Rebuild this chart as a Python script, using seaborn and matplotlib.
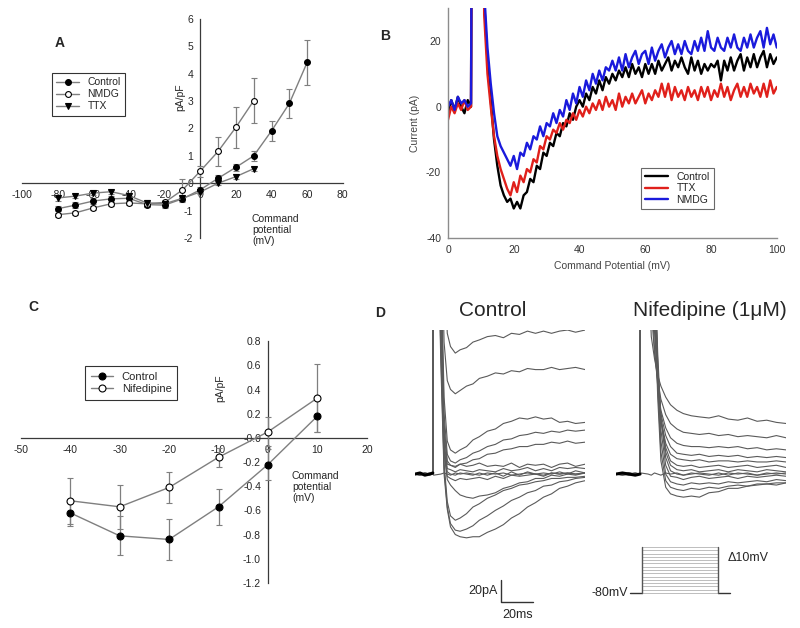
import matplotlib
matplotlib.use("Agg")
import numpy as np
import pandas as pd
import matplotlib.pyplot as plt
from matplotlib.lines import Line2D
import seaborn as sns

sns.set_style("white")
plt.rcParams['font.family'] = ['Liberation Sans', 'DejaVu Sans']
plt.rcParams['axes.unicode_minus'] = False

# ---------------- panel A : I-V (pA/pF)
a_mv = [-80, -70, -60, -50, -40, -30, -20, -10, 0, 10, 20, 30, 40, 50, 60]
a_ctrl = [-0.93, -0.80, -0.65, -0.57, -0.55, -0.78, -0.80, -0.57, -0.24, 0.18, 0.58, 1.00, 1.91, 2.91, 4.41]
a_ctrl_err = [0.10, 0.10, 0.10, 0.10, 0.10, 0.10, 0.12, 0.10, 0.12, 0.12, 0.12, 0.18, 0.36, 0.52, 0.81]
a_mv_short = [-80, -70, -60, -50, -40, -30, -20, -10, 0, 10, 20, 30]
a_nmdg = [-1.15, -1.08, -0.90, -0.75, -0.72, -0.75, -0.70, -0.25, 0.44, 1.16, 2.04, 3.01]
a_nmdg_err = [0.08, 0.08, 0.08, 0.08, 0.08, 0.10, 0.10, 0.40, 0.20, 0.52, 0.75, 0.83]
a_ttx = [-0.54, -0.47, -0.36, -0.31, -0.45, -0.72, -0.75, -0.55, -0.32, 0.00, 0.24, 0.53]
a_ttx_err = [0.10, 0.08, 0.08, 0.08, 0.10, 0.10, 0.10, 0.08, 0.08, 0.08, 0.08, 0.08]

# ---------------- panel B : example traces
b_mv = list(range(0, 101))
b_ctrl = [-2, 2, -1, 3, 0, -2, 2, 0, 300, 300, 300,
          32, 14, 2, -10, -18, -24, -27, -29, -28, -31,
          -29, -31, -27, -26, -22, -23, -18, -19, -14, -15,
          -11, -12, -8, -9, -5, -6, -2, -4, 0, 2,
          0, 4, 2, 6, 4, 8, 5, 9, 7, 10,
          8, 11, 9, 12, 9, 13, 10, 12, 9, 13,
          10, 13, 10, 14, 11, 13, 15, 11, 14, 12,
          15, 12, 10, 15, 11, 14, 10, 13, 11, 13,
          12, 14, 8, 14, 11, 15, 11, 14, 16, 11,
          15, 12, 16, 12, 15, 17, 12, 16, 13, 15]
b_ttx = [-4, 0, -2, 1, -1, 2, -1, 0, 300, 300, 300,
         28, 10, 0, -9, -15, -19, -22, -25, -27, -23,
         -26, -21, -23, -19, -20, -16, -17, -12, -13, -9,
         -10, -7, -8, -5, -7, -4, -5, -2, -4, -1,
         -3, 0, -2, 1, -1, 2, -1, 3, 0, 2,
         -1, 4, 0, 3, 1, 4, 1, 3, 5, 1,
         4, 2, 5, 3, 7, 3, 7, 2, 6, 3,
         5, 2, 6, 3, 5, 2, 6, 3, 6, 2,
         5, 3, 7, 3, 6, 2, 5, 7, 3, 6,
         3, 7, 4, 6, 3, 7, 3, 8, 4, 6]
b_nmdg = [0, 2, -1, 3, 1, 2, 0, 1, 300, 300, 300,
          35, 18, 7, -2, -9, -12, -14, -16, -18, -15,
          -19, -14, -15, -11, -13, -9, -10, -6, -9, -5,
          -6, -2, -5, -1, -3, 2, -1, 4, 1, 6,
          3, 8, 5, 10, 7, 11, 8, 12, 11, 14,
          11, 15, 11, 16, 12, 15, 17, 13, 16, 17,
          13, 18, 14, 17, 19, 15, 18, 20, 16, 19,
          16, 20, 17, 16, 20, 17, 21, 17, 23, 18,
          17, 21, 18, 17, 21, 18, 22, 18, 17, 21,
          18, 22, 18, 21, 23, 18, 24, 19, 22, 18]

# ---------------- panel C : I-V with nifedipine
c_mv = [-40, -30, -20, -10, 0, 10]
c_ctrl = [-0.62, -0.81, -0.84, -0.57, -0.22, 0.18]
c_ctrl_err = [0.11, 0.16, 0.17, 0.15, 0.13, 0.13]
c_nif = [-0.52, -0.57, -0.41, -0.16, 0.05, 0.33]
c_nif_err = [0.19, 0.18, 0.13, 0.08, 0.12, 0.28]

# ---------------- panel D : current families (pA vs ms)
d_t_ctrl = [0, 3, 6, 9, 11, 11.5, 16, 18, 20, 22, 25, 28, 32, 36, 40, 45, 50, 55, 60, 65, 70, 75, 80, 85, 90, 95, 100, 106]
d_ctrl = [
    [0, 1, -1, 0, 1, -1, 0, 1, 0, -1, 1, 0, 1, 0, -1, 1, 0, 1, -1, 0, 1, 0, -1, 1, 0, 1, 0, 1],
    [0, 1, -1, 0, 0, 400, 300, 200, 128, 116, 110, 113, 115, 120, 122, 125, 126, 124, 128, 127, 130, 128, 130, 128, 130, 131, 129, 131],
    [0, -1, 1, 0, 0, 400, 250, 120, 85, 77, 73, 76, 80, 82, 87, 89, 92, 91, 94, 93, 96, 95, 95, 97, 95, 96, 97, 95],
    [0, 1, 0, -1, 0, 400, 200, 70, 30, 22, 19, 22, 25, 31, 34, 39, 41, 46, 48, 51, 50, 52, 50, 51, 47, 48, 46, 47],
    [0, 0, 1, 0, 0, 400, 180, 55, 18, 12, 10, 13, 15, 19, 21, 25, 27, 31, 32, 35, 36, 38, 37, 39, 38, 40, 39, 40],
    [0, -1, 0, 1, 0, 400, 170, 45, 12, 8, 7, 9, 10, 13, 14, 18, 19, 22, 23, 25, 25, 27, 27, 29, 28, 30, 28, 29],
    [0, 1, 0, 0, 0, 400, 160, 38, 9, 8, 6, 9, 7, 8, 10, 7, 8, 7, 10, 6, 9, 8, 9, 6, 9, 10, 7, 9],
    [0, 0, -1, 0, 0, 400, 150, 30, 5, 4, 2, 4, 3, 2, 4, 3, 2, 5, 3, 4, 6, 3, 5, 3, 6, 5, 6, 5],
    [0, 0, 1, 0, 0, 400, 140, 25, 2, 0, -1, 1, 0, -1, 1, -1, 1, -2, 2, -1, 2, 0, 1, 0, 2, 0, 3, 1],
    [0, -1, 0, 0, 0, 400, 130, 20, -2, -4, -6, -4, -5, -4, -3, -5, -2, -4, -1, -2, -1, 0, -2, 1, 0, 1, 0, 1],
    [0, 0, 0, 0, 0, 400, 130, 20, -5, -10, -15, -19, -21, -22, -20, -19, -17, -13, -11, -8, -7, -4, -4, -1, -2, 0, -1, 1],
    [0, 0, 0, 0, 0, 400, 120, 10, -25, -38, -42, -40, -36, -30, -27, -22, -19, -15, -13, -10, -9, -7, -6, -4, -4, -3, -3, -2],
    [0, 0, 0, 0, 0, 400, 110, 5, -30, -45, -51, -52, -50, -47, -42, -38, -33, -29, -24, -21, -17, -15, -11, -10, -7, -6, -4, -3],
    [0, 0, 0, 0, 0, 400, 100, 0, -32, -48, -55, -57, -58, -57, -57, -53, -50, -46, -40, -36, -30, -26, -21, -18, -13, -11, -8, -6],
]
d_t_nif = [0, 4, 8, 12, 15, 15.5, 20, 22, 24, 26, 28, 31, 34, 38, 42, 47, 52, 58, 64, 70, 76, 82, 88, 94, 100, 106]
d_nif = [
    [0, 1, 0, -1, 0, 1, 0, -1, 1, 0, -1, 1, 0, 1, -1, 0, 1, 0, -1, 1, 0, 1, -1, 0, 1, 0],
    [0, 1, 0, -1, 0, 400, 200, 125, 105, 90, 80, 70, 63, 58, 55, 53, 52, 51, 53, 50, 49, 51, 48, 49, 47, 46],
    [0, 0, 1, 0, 0, 400, 250, 150, 110, 85, 68, 54, 46, 41, 38, 37, 36, 37, 35, 36, 34, 35, 34, 33, 35, 33],
    [0, -1, 0, 1, 0, 400, 300, 170, 115, 80, 58, 42, 33, 28, 26, 25, 25, 24, 25, 24, 25, 23, 24, 22, 23, 22],
    [0, 0, 0, 1, 0, 400, 300, 200, 130, 85, 55, 35, 25, 19, 18, 17, 18, 16, 17, 16, 17, 15, 16, 15, 16, 15],
    [0, 1, 0, 0, 0, 400, 350, 220, 140, 85, 50, 28, 18, 14, 13, 12, 13, 11, 12, 12, 11, 12, 11, 11, 12, 11],
    [0, 0, -1, 0, 0, 400, 350, 250, 160, 95, 50, 24, 12, 8, 7, 8, 6, 7, 8, 6, 7, 8, 6, 7, 8, 6],
    [0, 0, 1, 0, 0, 400, 400, 280, 180, 100, 50, 20, 8, 4, 3, 4, 2, 3, 4, 2, 4, 3, 2, 4, 3, 2],
    [0, 1, 0, 0, 0, 400, 400, 300, 200, 110, 50, 15, 3, 0, -1, 1, 0, -1, 1, -1, 1, 0, -1, 1, 0, 1],
    [0, 0, 0, -1, 0, 400, 400, 300, 200, 100, 40, 8, -2, -3, -5, -3, -2, -4, -3, -2, -4, -2, -3, -2, -1, -2],
    [0, 0, 1, 0, 0, 400, 400, 300, 190, 90, 30, 0, -7, -9, -10, -8, -9, -8, -9, -7, -8, -7, -6, -7, -5, -6],
    [0, 0, 0, 0, 0, 400, 400, 300, 180, 80, 20, -6, -12, -14, -15, -13, -14, -12, -13, -11, -10, -11, -9, -9, -8, -8],
    [0, -1, 0, 0, 0, 400, 400, 280, 160, 70, 12, -12, -18, -20, -21, -20, -21, -17, -16, -13, -13, -11, -10, -9, -10, -8],
]
# voltage protocol
proto_t = [0, 7.5, 55, 62.5]
proto_levels = list(range(-70, 61, 10))

GREY = "#7f7f7f"
AXC = "#3a3a3a"

fig = plt.figure(figsize=(8, 6.28), dpi=100)


def cross_axes(ax, xt, yt, yfmt):
    for s in ["top", "right"]:
        ax.spines[s].set_visible(False)
    for s in ["left", "bottom"]:
        ax.spines[s].set_position(("data", 0))
        ax.spines[s].set_color(AXC)
        ax.spines[s].set_linewidth(0.9)
    ax.set_xticks(xt)
    ax.set_yticks(yt)
    ax.set_yticklabels([yfmt.format(v) for v in yt])
    ax.tick_params(axis="both", direction="out", length=3, width=0.8, color=AXC,
                   labelsize=7.5, pad=2)
    ax.patch.set_alpha(0)


def iv(ax, x, y, err, marker, fill, ms):
    ax.errorbar(x, y, yerr=err, color=GREY, lw=1.0, elinewidth=0.9, capsize=2.5,
                capthick=0.9, ecolor=GREY, marker=marker, ms=ms,
                mfc=fill, mec="black", mew=0.8, zorder=3)
    return Line2D([], [], color=GREY, lw=1.0, marker=marker, ms=ms, mfc=fill,
                  mec="black", mew=0.8)


# ---- A
axA = fig.add_axes([0.0275, 0.621, 0.401, 0.349])
axA.set_xlim(-100, 80)
axA.set_ylim(-2, 6)
cross_axes(axA, range(-100, 81, 20), range(-2, 7), "{:d}")
hA = [iv(axA, a_mv, a_ctrl, a_ctrl_err, "o", "black", 4.2),
      iv(axA, a_mv_short, a_nmdg, a_nmdg_err, "o", "white", 4.2),
      iv(axA, a_mv_short, a_ttx, a_ttx_err, "v", "black", 4.2)]
legA = axA.legend(hA, ["Control", "NMDG", "TTX"], loc="upper left",
                  bbox_to_anchor=(52 / 800, 1 - 73 / 628),
                  bbox_transform=fig.transFigure, fontsize=7.5, frameon=True,
                  fancybox=False, edgecolor="black", borderpad=0.4,
                  handlelength=2.2, labelspacing=0.2, borderaxespad=0)
legA.get_frame().set_linewidth(0.8)
fig.text(60 / 800, 1 - 43 / 628, "A", fontsize=10, fontweight="bold", ha="center", va="center")
fig.text(180 / 800, 1 - 97 / 628, "pA/pF", fontsize=7.5, rotation=90, ha="center", va="center")
fig.text(252 / 800, 1 - 214 / 628, "Command\npotential\n(mV)", fontsize=7.5, ha="left", va="top",
         linespacing=1.1)

# ---- B
dfB = pd.DataFrame({
    "mV": b_mv * 3,
    "pA": b_ctrl + b_ttx + b_nmdg,
    "cond": ["Control"] * len(b_mv) + ["TTX"] * len(b_mv) + ["NMDG"] * len(b_mv),
})
axB = fig.add_axes([0.56, 0.621, 0.411, 0.366])
sns.lineplot(data=dfB, x="mV", y="pA", hue="cond", hue_order=["Control", "TTX", "NMDG"],
             palette={"Control": "black", "TTX": "#e0201b", "NMDG": "#1a1adc"},
             lw=1.7, sort=False, ax=axB)
axB.set_xlim(0, 100)
axB.set_ylim(-40, 30)
axB.set_xticks(range(0, 101, 20))
axB.set_yticks([-40, -20, 0, 20])
for s in ["top", "right"]:
    axB.spines[s].set_visible(False)
for s in ["left", "bottom"]:
    axB.spines[s].set_color("#8c8c8c")
    axB.spines[s].set_linewidth(1.0)
axB.tick_params(axis="both", direction="out", length=3, color="#8c8c8c", labelsize=7.5,
                labelcolor="#333333", pad=2)
axB.set_xlabel("Command Potential (mV)", fontsize=7.5, color="#444444", labelpad=4)
axB.set_ylabel("Current (pA)", fontsize=7.5, color="#444444", labelpad=4)
legB = axB.legend(loc="lower left", bbox_to_anchor=(0.587, 0.126), fontsize=7.5,
                  frameon=True, fancybox=False, edgecolor="#444444", borderpad=0.4,
                  handlelength=2.2, labelspacing=0.15, borderaxespad=0)
legB.get_frame().set_linewidth(0.8)
for h in legB.get_lines():
    h.set_linewidth(1.7)
fig.text(385 / 800, 1 - 36 / 628, "B", fontsize=10, fontweight="bold", ha="center", va="center")

# ---- C
axC = fig.add_axes([0.026, 0.0717, 0.4325, 0.385])
axC.set_xlim(-50, 20)
axC.set_ylim(-1.2, 0.8)
cross_axes(axC, range(-50, 21, 10), np.round(np.arange(-1.2, 0.81, 0.2), 1), "{:.1f}")
hC = [iv(axC, c_mv, c_ctrl, c_ctrl_err, "o", "black", 5),
      iv(axC, c_mv, c_nif, c_nif_err, "o", "white", 5)]
legC = axC.legend(hC, ["Control", "Nifedipine"], loc="upper left",
                  bbox_to_anchor=(85 / 800, 1 - 366 / 628),
                  bbox_transform=fig.transFigure, fontsize=8, frameon=True,
                  fancybox=False, edgecolor="black", borderpad=0.5,
                  handlelength=2.0, labelspacing=0.25, borderaxespad=0)
legC.get_frame().set_linewidth(0.8)
fig.text(33 / 800, 1 - 307 / 628, "C", fontsize=10, fontweight="bold", ha="center", va="center")
fig.text(220 / 800, 1 - 388 / 628, "pA/pF", fontsize=7.5, rotation=90, ha="center", va="center")
fig.text(292 / 800, 1 - 471 / 628, "Command\npotential\n(mV)", fontsize=7.5, ha="left", va="top",
         linespacing=1.1)


# ---- D
def family(t, sweeps):
    rows = []
    for i, s in enumerate(sweeps):
        for tt, v in zip(t, s):
            rows.append((tt, v, i))
    return pd.DataFrame(rows, columns=["ms", "pA", "sweep"])


axD1 = fig.add_axes([0.519, 0.0175, 0.2125, 0.457])
axD2 = fig.add_axes([0.77, 0.0175, 0.2125, 0.457])
for ax, t, sw in [(axD1, d_t_ctrl, d_ctrl), (axD2, d_t_nif, d_nif)]:
    sns.lineplot(data=family(t, sw), x="ms", y="pA", units="sweep", estimator=None,
                 color="#5a5a5a", lw=0.8, sort=False, ax=ax)
    # holding segment drawn heavy, as in the recording
    ax.plot(t[:5], sw[0][:5], color="black", lw=2.2)
    ax.set_xlim(0, 106)
    ax.set_ylim(-130, 131)
    ax.axis("off")

# scale bar (20 pA / 20 ms)
sb_t, sb_y = 53.75, -116
axD1.plot([sb_t, sb_t, sb_t + 20], [sb_y + 20, sb_y, sb_y], color="#333333", lw=1.0,
          clip_on=False)
axD1.text(sb_t - 2.5, sb_y + 10, "20pA", fontsize=9, ha="right", va="center")
axD1.text(sb_t + 10, -128, "20ms", fontsize=9, ha="center", va="center")

axP = fig.add_axes([0.7875, 0.0557, 0.125, 0.0732])
axP.set_xlim(0, 62.5)
axP.set_ylim(-80, 60)
axP.axis("off")
for lv in proto_levels:
    axP.plot([proto_t[1], proto_t[2]], [lv, lv], color="#bdbdbd", lw=0.7, clip_on=False)
axP.plot(proto_t[:2], [-80, -80], color="#333333", lw=1.0, clip_on=False)
axP.plot(proto_t[2:], [-80, -80], color="#333333", lw=1.0, clip_on=False)
axP.plot([proto_t[1], proto_t[2]], [-80, -80], color="#bdbdbd", lw=0.7, clip_on=False)
axP.plot([proto_t[1]] * 2, [-80, 60], color="#555555", lw=1.0, clip_on=False)
axP.plot([proto_t[2]] * 2, [-80, 60], color="#555555", lw=1.0, clip_on=False)
axP.text(-1, -80, "-80mV", fontsize=9, ha="right", va="center")
axP.text(61, 26, "\u039410mV", fontsize=9, ha="left", va="center")

fig.text(380 / 800, 1 - 313 / 628, "D", fontsize=10, fontweight="bold", ha="center", va="center")
fig.text(493 / 800, 1 - 310 / 628, "Control", fontsize=15, ha="center", va="center")
fig.text(710 / 800, 1 - 310 / 628, "Nifedipine (1\u03bcM)", fontsize=15, ha="center", va="center")

fig.savefig("out.png", dpi=100)
